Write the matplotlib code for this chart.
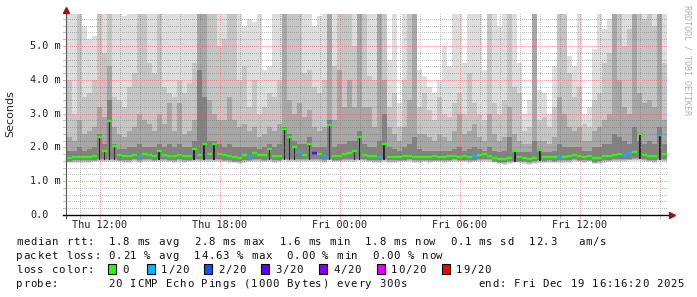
import matplotlib
matplotlib.use("Agg")
import matplotlib.pyplot as plt
import matplotlib.transforms as mtransforms
from matplotlib.patches import Rectangle
import numpy as np

# time is in hours since Thu 00:00, one value per 15 minute bin
start_hour = 10.35
step_hours = 0.25

median_ms = [
    1.70, 1.72, 1.73, 1.71, 1.73, 1.76, 2.30, 1.90, 2.79, 2.05, 1.77, 1.76,
    1.75, 1.78, 1.74, 1.80, 1.78, 1.76, 1.90, 1.78, 1.76, 1.74, 1.77, 1.75,
    1.75, 1.95, 1.78, 2.10, 1.80, 2.10, 1.80, 1.78, 1.75, 1.72, 1.70, 1.78,
    1.76, 1.82, 1.78, 1.77, 1.95, 1.75, 1.76, 2.54, 2.30, 2.00, 1.85, 1.78,
    2.10, 1.82, 1.80, 1.76, 2.66, 1.75, 1.76, 1.80, 1.82, 1.90, 2.30, 1.78,
    1.76, 1.74, 1.73, 2.10, 1.72, 1.72, 1.73, 1.75, 1.76, 1.73, 1.72, 1.73,
    1.72, 1.74, 1.73, 1.72, 1.74, 1.75, 1.73, 1.74, 1.72, 1.74, 1.78, 1.80,
    1.75, 1.70, 1.67, 1.66, 1.68, 1.90, 1.72, 1.68, 1.66, 1.70, 1.92, 1.71,
    1.72, 1.71, 1.73, 1.72, 1.74, 1.77, 1.75, 1.73, 1.74, 1.68, 1.70, 1.74,
    1.76, 1.78, 1.80, 1.78, 1.82, 1.86, 2.40, 1.78, 1.75, 1.74, 2.37, 1.80,
]

min_ms = [
    1.58, 1.60, 1.60, 1.59, 1.60, 1.61, 1.62, 1.62, 1.63, 1.62, 1.61, 1.60,
    1.60, 1.62, 1.60, 1.63, 1.62, 1.61, 1.63, 1.62, 1.61, 1.60, 1.62, 1.60,
    1.61, 1.62, 1.62, 1.63, 1.62, 1.63, 1.62, 1.61, 1.60, 1.58, 1.57, 1.60,
    1.61, 1.63, 1.62, 1.61, 1.62, 1.60, 1.61, 1.64, 1.63, 1.62, 1.63, 1.62,
    1.63, 1.62, 1.62, 1.60, 1.64, 1.61, 1.61, 1.62, 1.63, 1.63, 1.64, 1.62,
    1.61, 1.60, 1.60, 1.62, 1.60, 1.60, 1.61, 1.61, 1.62, 1.60, 1.60, 1.61,
    1.60, 1.61, 1.61, 1.60, 1.61, 1.62, 1.61, 1.61, 1.60, 1.61, 1.62, 1.63,
    1.62, 1.58, 1.55, 1.54, 1.56, 1.58, 1.58, 1.56, 1.54, 1.57, 1.59, 1.58,
    1.59, 1.58, 1.60, 1.59, 1.60, 1.62, 1.61, 1.60, 1.61, 1.55, 1.57, 1.60,
    1.61, 1.62, 1.63, 1.62, 1.64, 1.65, 1.66, 1.63, 1.61, 1.60, 1.64, 1.63,
]

# upper edges of the smoke bands, lightest (outer pings) to darkest (near median)
smoke_outer = [
    6.2, 6.2, 6.2, 5.6, 5.2, 5.3, 6.2, 6.2, 6.2, 6.2, 6.2, 5.9,
    6.2, 6.2, 6.2, 6.2, 6.2, 6.2, 6.2, 6.2, 6.2, 6.2, 6.2, 6.2,
    6.2, 6.2, 6.2, 6.2, 6.2, 6.2, 6.2, 6.2, 6.2, 6.2, 6.2, 5.6,
    5.8, 5.7, 6.2, 4.3, 4.4, 6.2, 6.2, 6.2, 6.2, 6.2, 6.2, 6.2,
    6.2, 5.6, 5.9, 6.2, 6.2, 6.2, 6.2, 6.2, 6.2, 6.2, 6.2, 6.2,
    6.2, 6.2, 6.2, 6.2, 4.6, 6.2, 3.3, 6.2, 6.2, 6.2, 4.3, 4.1,
    3.8, 3.6, 4.0, 5.0, 4.4, 6.2, 6.2, 4.5, 6.2, 6.2, 6.2, 4.3,
    6.2, 6.2, 5.6, 6.2, 6.2, 6.2, 4.5, 3.0, 3.4, 6.2, 3.7, 3.6,
    3.0, 4.4, 6.2, 6.2, 4.7, 4.4, 6.2, 3.0, 3.2, 4.9, 6.2, 5.5,
    5.8, 6.2, 6.2, 6.2, 6.2, 6.2, 6.2, 6.2, 6.2, 6.2, 6.2, 6.2,
]

smoke_mid = [
    4.0, 3.0, 6.2, 3.5, 3.6, 4.0, 6.2, 4.8, 6.2, 3.5, 3.4, 3.2,
    3.8, 4.2, 6.2, 6.2, 4.5, 4.2, 6.2, 3.8, 3.6, 3.5, 4.0, 3.6,
    3.9, 4.5, 6.2, 6.2, 6.2, 6.2, 5.0, 5.2, 6.2, 6.2, 4.0, 4.4,
    3.2, 4.0, 3.0, 3.2, 3.6, 3.5, 4.0, 6.2, 6.2, 6.2, 6.2, 4.2,
    4.3, 3.8, 3.6, 4.0, 6.2, 4.4, 6.2, 6.2, 6.2, 5.0, 6.2, 6.2,
    4.1, 4.0, 6.2, 6.2, 3.2, 3.6, 2.6, 4.0, 6.2, 6.2, 3.2, 3.6,
    3.1, 2.8, 3.5, 3.0, 2.9, 3.3, 3.6, 3.0, 4.2, 3.3, 3.0, 2.8,
    6.2, 3.3, 3.0, 3.4, 6.2, 3.8, 3.6, 2.5, 2.6, 6.2, 2.8, 2.9,
    2.6, 3.2, 6.2, 6.2, 4.2, 3.5, 3.8, 2.7, 2.6, 3.4, 3.6, 4.5,
    4.8, 6.2, 6.2, 5.0, 5.5, 6.2, 6.2, 5.8, 6.0, 5.6, 6.2, 4.5,
]

smoke_inner = [
    2.3, 2.2, 2.8, 2.4, 2.5, 2.6, 3.2, 2.9, 4.4, 2.6, 2.4, 2.3,
    2.5, 2.6, 3.0, 2.8, 2.7, 2.5, 3.0, 2.7, 3.3, 2.5, 3.3, 2.4,
    2.5, 2.8, 6.2, 6.2, 3.4, 3.0, 2.8, 2.8, 3.5, 2.8, 2.6, 2.7,
    2.5, 2.6, 2.3, 2.4, 2.6, 2.5, 2.7, 6.2, 3.4, 3.0, 3.3, 2.9,
    3.1, 2.6, 2.5, 2.6, 6.2, 2.8, 4.3, 3.2, 4.0, 3.2, 6.2, 3.2,
    3.2, 2.6, 6.2, 4.0, 2.6, 2.4, 2.2, 2.6, 3.4, 6.2, 2.4, 2.4,
    2.3, 2.2, 2.4, 2.3, 2.2, 2.5, 3.0, 2.4, 2.5, 2.7, 2.3, 2.2,
    3.0, 2.4, 2.2, 2.3, 3.2, 2.4, 2.2, 2.1, 2.1, 6.2, 2.2, 2.2,
    2.1, 2.3, 3.5, 3.0, 2.6, 2.5, 2.6, 2.2, 2.2, 2.5, 2.6, 2.8,
    3.0, 6.2, 4.0, 3.2, 3.0, 6.2, 3.6, 3.3, 3.4, 3.2, 6.2, 2.8,
]

smoke_core = [
    1.90, 1.90, 2.00, 1.90, 1.95, 2.00, 2.40, 2.10, 3.40, 2.10, 1.95, 1.95,
    2.00, 2.00, 2.10, 2.00, 2.00, 2.00, 2.10, 2.00, 2.10, 2.00, 2.10, 2.00,
    2.00, 2.20, 4.30, 3.50, 2.20, 2.20, 2.10, 2.00, 2.10, 2.00, 2.00, 2.00,
    2.00, 2.00, 1.95, 2.00, 2.10, 2.00, 2.10, 2.60, 2.40, 2.20, 2.10, 2.10,
    2.30, 2.00, 2.00, 2.00, 2.80, 2.00, 2.10, 2.10, 2.20, 2.20, 2.50, 2.10,
    2.00, 2.00, 2.20, 3.00, 2.00, 1.95, 1.90, 2.00, 2.10, 2.30, 1.95, 1.90,
    1.90, 1.90, 1.90, 1.90, 1.90, 1.95, 2.00, 1.90, 1.95, 2.00, 1.95, 1.90,
    2.00, 1.90, 1.85, 1.90, 2.30, 1.90, 1.85, 1.85, 1.85, 2.20, 1.90, 1.85,
    1.85, 1.90, 2.10, 2.00, 2.00, 2.00, 2.00, 1.90, 1.90, 2.00, 2.00, 2.10,
    2.10, 2.40, 2.30, 2.20, 2.10, 2.60, 2.20, 2.10, 2.20, 2.10, 2.60, 2.10,
]

# bins where some of the 20 pings were lost
loss_bins = [14, 36, 46, 49, 51, 62, 81, 98, 111, 112, 118]
loss_counts = [1, 1, 1, 3, 1, 1, 1, 1, 1, 1, 1]

loss_labels = ["0", "1/20", "2/20", "3/20", "4/20", "10/20", "19/20"]
loss_limits = [0, 1, 2, 3, 4, 10, 19]
loss_colors = ["#26ff00", "#00b8ff", "#0059ff", "#5e00ff", "#7e00ff", "#dd00ff", "#ff0000"]

hour_ticks = [12, 18, 24, 30, 36]
hour_labels = ["Thu 12:00", "Thu 18:00", "Fri 00:00", "Fri 06:00", "Fri 12:00"]
ms_ticks = [0, 1, 2, 3, 4, 5]
ms_labels = ["0.0", "1.0 m", "2.0 m", "3.0 m", "4.0 m", "5.0 m"]

rtt_line = "median rtt:  1.8 ms avg  2.8 ms max  1.6 ms min  1.8 ms now  0.1 ms sd  12.3   am/s"
loss_line = "packet loss: 0.21 % avg  14.63 % max  0.00 % min  0.00 % now"
probe_line = "probe:       20 ICMP Echo Pings (1000 Bytes) every 300s"
end_line = "end: Fri Dec 19 16:16:20 2025"

W, H = 697, 297
MONO = "DejaVu Sans Mono"
PX_PER_HOUR = 20
PX_PER_MS = 33.8
AW, AH = 602, 201

fig = plt.figure(figsize=(W / 100, H / 100), dpi=100)
fig.patch.set_facecolor("white")
ax = fig.add_axes([66 / W, (H - 215) / H, AW / W, AH / H])
x0 = 10.3
x1 = x0 + AW / PX_PER_HOUR
y1 = AH / PX_PER_MS
ax.set_xlim(x0, x1)
ax.set_ylim(0, y1)
for s in ax.spines.values():
    s.set_visible(False)
ax.set_xticks([])
ax.set_yticks([])

n = len(median_ms)
edges = start_hour + step_hours * np.arange(n + 1)
med = np.array(median_ms)
low = np.array(min_ms)


def ext(a):
    return np.append(a, a[-1])


# smoke, outer bands first
bands = [
    (low - 0.05, np.array(smoke_outer), "#dddddd"),
    (low - 0.02, np.array(smoke_mid), "#c5c5c5"),
    (low, np.array(smoke_inner), "#a7a7a7"),
    (low + 0.03, np.array(smoke_core), "#828282"),
]
for lo, hi, col in bands:
    ax.fill_between(edges, ext(lo), ext(np.minimum(hi, y1)), step="post",
                    color=col, lw=0, zorder=2)

# dark column under high medians
centers = edges[:-1] + step_hours / 2
high = med > 1.88
ax.bar(centers[high], med[high] - low[high], bottom=low[high], width=0.1,
       color="#262626", lw=0, zorder=3)

# dotted grid, one pixel on / one off, laid over the smoke as a pixel image
grid = np.zeros((AH, AW, 4))
minor_rgba = (0.42, 0.42, 0.42, 0.42)
major_rgba = (1.0, 0.3, 0.3, 0.5)
for h in range(11, 41):
    col = int(round((h - x0) * PX_PER_HOUR))
    if 0 <= col < AW:
        grid[::2, col] = major_rgba if h % 6 == 0 else minor_rgba
        # short tick below the time axis
        ax.plot([h, h], [0, -3 / PX_PER_MS], color=major_rgba if h % 6 == 0 else minor_rgba,
                lw=0.72, clip_on=False, zorder=6)
for k in range(1, 30):
    row = int(round(AH - k * 0.2 * PX_PER_MS))
    grid[row, ::2] = major_rgba if k % 5 == 0 else minor_rgba
    ax.plot([x0 - 3 / PX_PER_HOUR, x0], [k * 0.2, k * 0.2],
            color=major_rgba if k % 5 == 0 else minor_rgba, lw=0.72,
            clip_on=False, zorder=6)
ax.imshow(grid, extent=[x0, x1, 0, y1], aspect="auto", interpolation="nearest",
          zorder=4)

# median line, coloured by loss
seg_colors = [loss_colors[0]] * n
for b, c in zip(loss_bins, loss_counts):
    idx = max(i for i, lim in enumerate(loss_limits) if c >= lim)
    seg_colors[b] = loss_colors[idx]
ax.hlines(med, edges[:-1], edges[1:], colors=seg_colors, lw=1.7, zorder=5)

# axes with arrows
ax.plot([x0, x0], [-3 / PX_PER_MS, (AH + 2) / PX_PER_MS], color="#555555", lw=0.8,
        clip_on=False, zorder=6)
ax.plot([x0 - 3 / PX_PER_HOUR, x1 + 0.05], [0, 0], color="black", lw=1.0, clip_on=False, zorder=6)
ax.plot([x0], [(AH + 4) / PX_PER_MS], marker="^", ms=4.5, color="#9b1010", clip_on=False, zorder=7)
ax.plot([x0 + 606 / PX_PER_HOUR], [0], marker=">", ms=4.5, color="#9b1010", clip_on=False, zorder=7)

# tick labels
ytr = mtransforms.blended_transform_factory(ax.transAxes, ax.transData)
for v, lab in zip(ms_ticks, ms_labels):
    ax.text(-36 / AW, v, lab, transform=ytr, ha="left", va="center",
            family=MONO, fontsize=7.3, color="#222222")
xtr = mtransforms.blended_transform_factory(ax.transData, ax.transAxes)
for h, lab in zip(hour_ticks, hour_labels):
    ax.text(h, -10 / AH, lab, transform=xtr, ha="center", va="center",
            family=MONO, fontsize=7.3, color="#222222")

fig.text(10 / W, 1 - 114 / H, "Seconds", rotation=90, ha="center", va="center",
         fontsize=8, color="#222222")
fig.text(687 / W, 1 - 60 / H, "RRDTOOL / TOBI OETIKER", rotation=270,
         ha="center", va="center", family=MONO, fontsize=6, color="#b0b0b0")


# legend block: rrdtool spaces its glyphs wider than the font does
PITCH = 7.12


def spaced(x_px, row_px, s, size=7.7):
    for i, ch in enumerate(s):
        if ch != " ":
            fig.text((x_px + i * PITCH) / W, 1 - (row_px + 4) / H, ch,
                     family=MONO, fontsize=size, va="baseline", ha="left",
                     color="#111111")


spaced(16, 241, rtt_line)
spaced(16, 255, loss_line)
spaced(16, 269, "loss color:")
box_x = [108, 147, 204, 261, 319, 377, 442]
for bx, lab, col in zip(box_x, loss_labels, loss_colors):
    fig.patches.append(Rectangle((bx / W, 1 - 274 / H), 8 / W, 10 / H,
                                 transform=fig.transFigure, facecolor=col,
                                 edgecolor="black", lw=0.8))
    spaced(bx + 14, 269, lab)
spaced(16, 283, probe_line)
spaced(478, 283, end_line)

fig.savefig("out.png", dpi=100)
